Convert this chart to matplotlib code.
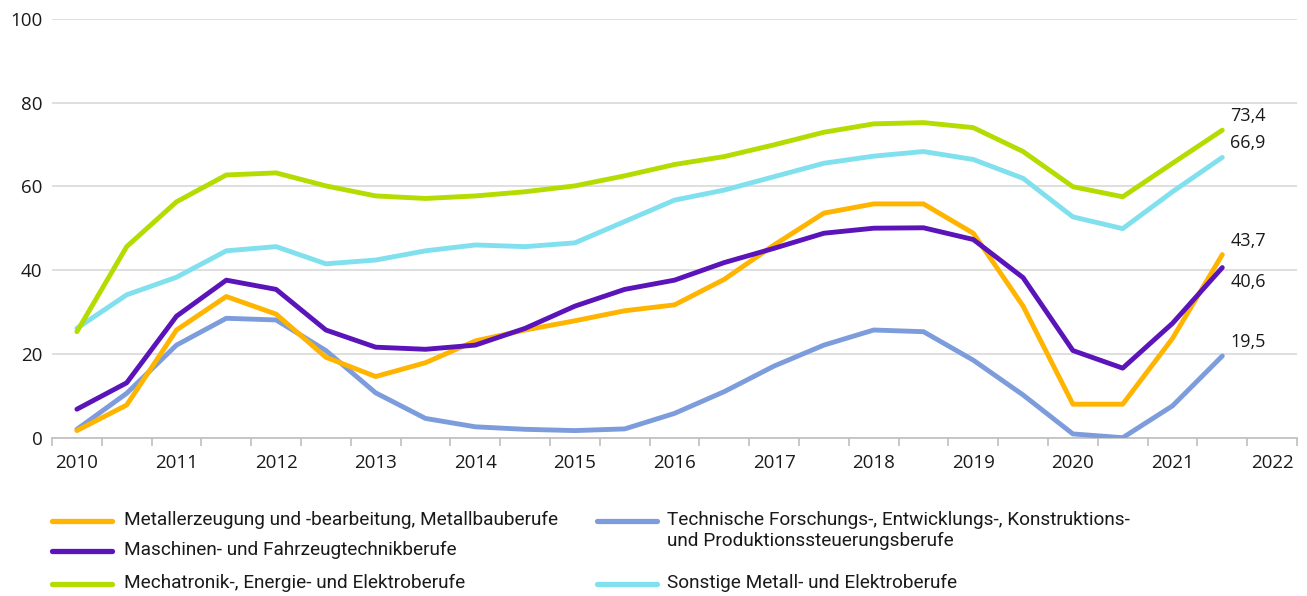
import numpy as np
import matplotlib
matplotlib.use("Agg")
import matplotlib.pyplot as plt
from matplotlib.lines import Line2D

years = ["2010", "2011", "2012", "2013", "2014", "2015", "2016",
         "2017", "2018", "2019", "2020", "2021", "2022"]

metall = [1.7, 7.8, 25.7, 33.7, 29.5, 19.2, 14.6, 17.9, 23.1, 25.7, 27.9, 30.3,
          31.7, 37.8, 46.0, 53.6, 55.8, 55.8, 48.8, 31.4, 8.0, 8.0, 23.7, 43.7]
maschinen = [6.8, 13.1, 29.0, 37.6, 35.4, 25.7, 21.6, 21.1, 22.1, 26.1, 31.4, 35.4,
             37.6, 41.8, 45.2, 48.8, 50.0, 50.1, 47.3, 38.2, 20.8, 16.6, 27.3, 40.6]
mechatronik = [25.3, 45.6, 56.3, 62.7, 63.2, 60.1, 57.7, 57.1, 57.7, 58.7, 60.1, 62.5,
               65.2, 67.1, 69.9, 72.9, 74.9, 75.2, 74.0, 68.3, 59.9, 57.5, 65.5, 73.4]
technische = [2.0, 10.6, 22.1, 28.5, 28.1, 20.8, 10.7, 4.6, 2.6, 2.0, 1.7, 2.1,
              5.8, 11.0, 17.1, 22.1, 25.7, 25.3, 18.5, 10.2, 0.9, 0.0, 7.6, 19.5]
sonstige = [26.1, 34.1, 38.3, 44.6, 45.6, 41.5, 42.4, 44.6, 46.0, 45.6, 46.5, 51.6,
            56.7, 59.1, 62.3, 65.5, 67.2, 68.3, 66.4, 61.9, 52.7, 49.9, 58.7, 66.9]

names = ["Metallerzeugung und -bearbeitung, Metallbauberufe",
         "Maschinen- und Fahrzeugtechnikberufe",
         "Mechatronik-, Energie- und Elektroberufe",
         "Technische Forschungs-, Entwicklungs-, Konstruktions-\nund Produktionssteuerungsberufe",
         "Sonstige Metall- und Elektroberufe"]
end_labels = ["43,7", "40,6", "73,4", "19,5", "66,9"]

colors = ["#FFB400", "#5A14B9", "#B4DC00", "#7D9CDC", "#80E0EE"]
series = [metall, maschinen, mechatronik, technische, sonstige]
label_offsets = [14, -14, 14, 14, 14]  # px vertical offset for end labels

plt.rcParams['font.family'] = ['Open Sans', 'DejaVu Sans']
TXT = "#1A1A1A"

fig = plt.figure(figsize=(13.07, 5.96), dpi=100)
ax = fig.add_axes([52/1307, 1-437.7/596, (1297-52)/1307, (437.7-18.7)/596])

x = np.arange(len(metall))
for idx in [4, 2, 3, 0, 1]:
    ax.plot(x, series[idx], color=colors[idx], lw=3.5, solid_capstyle='round',
            solid_joinstyle='round', zorder=3)

for idx in range(5):
    ax.annotate(end_labels[idx], xy=(x[-1], series[idx][-1]),
                xytext=(8, label_offsets[idx]), textcoords='offset pixels',
                ha='left', va='center', fontsize=13, color=TXT)

ax.set_xlim(-0.5, 24.5)
ax.set_ylim(0, 100)
ax.set_yticks(np.arange(0, 101, 20))
ax.yaxis.grid(True, color="#D9D9D9", lw=1.2)
ax.set_axisbelow(True)
ax.tick_params(axis='y', length=0, pad=7, labelsize=13.5, labelcolor=TXT)

ax.set_xticks(np.arange(0, 25, 2))
ax.set_xticklabels(years)
ax.set_xticks(np.arange(-0.5, 25, 1), minor=True)
ax.tick_params(axis='x', which='major', length=0, pad=12, labelsize=13.5, labelcolor=TXT)
ax.tick_params(axis='x', which='minor', length=6, width=1.2, color="#BFBFBF", direction='out')

for s in ['top', 'right', 'left']:
    ax.spines[s].set_visible(False)
ax.spines['bottom'].set_color("#BFBFBF")
ax.spines['bottom'].set_linewidth(1.2)

W, H = 1307, 596
leg_items = [(0, 52, 124, 521), (1, 52, 124, 551), (2, 52, 124, 584),
             (3, 597, 667, 521), (4, 597, 667, 584)]
for idx, x0, tx, y0 in leg_items:
    fig.add_artist(Line2D([x0/W, (x0+60)/W], [1-y0/H, 1-y0/H], color=colors[idx],
                          lw=3.8, solid_capstyle='round', transform=fig.transFigure))
    fig.text(tx/W, 1-(y0-10)/H, names[idx], ha='left', va='top', fontsize=13.7,
             family=['Roboto', 'DejaVu Sans'], color=TXT, linespacing=1.2)

fig.savefig("out.png", dpi=100)
